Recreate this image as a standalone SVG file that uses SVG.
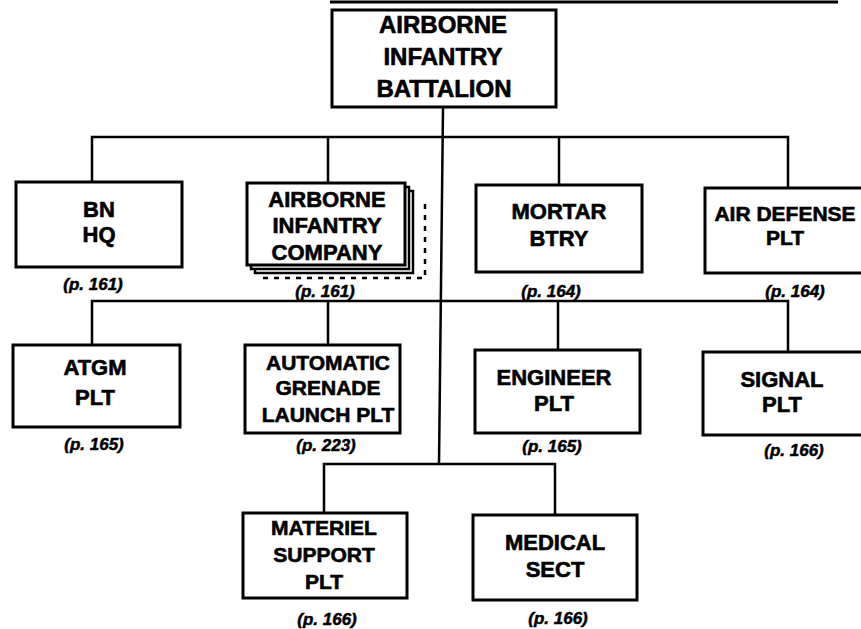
<svg xmlns="http://www.w3.org/2000/svg" width="861" height="629" viewBox="0 0 861 629">
<style>
.box{fill:#fff;stroke:#000;stroke-width:3}
.ln{fill:none;stroke:#000;stroke-width:2.5}
.t{font-family:"Liberation Sans",Arial,sans-serif;font-weight:bold;font-size:22px;text-anchor:middle;fill:#000;stroke:#000;stroke-width:0.6}
.p{font-family:"Liberation Sans",Arial,sans-serif;font-weight:bold;font-style:italic;font-size:17px;text-anchor:middle;fill:#000;stroke:#000;stroke-width:0.5}
</style>
<rect width="861" height="629" fill="#fff"/>
<line x1="330" y1="2" x2="838" y2="2" stroke="#000" stroke-width="3"/>
<g id="connectors" class="ln">
<path d="M443 107 L439 464"/>
<path d="M92 182 V137 H788 V188"/>
<path d="M328 137 V183"/>
<path d="M559 137 V185"/>
<path d="M92 345 V301 H788 V352"/>
<path d="M328 301 V345"/>
<path d="M558 301 V350"/>
<path d="M324 513 V464 H555 V515"/>
</g>
<g id="battalion">
<rect class="box" x="332" y="10" width="224" height="97"/>
<text class="t" style="font-size:24px" x="443" y="33">AIRBORNE</text>
<text class="t" style="font-size:24px" x="443" y="65">INFANTRY</text>
<text class="t" style="font-size:24px" x="444" y="97">BATTALION</text>
</g>
<g id="bnhq">
<rect class="box" x="16" y="182" width="166" height="85"/>
<text class="t" x="99" y="217">BN</text>
<text class="t" x="99" y="242">HQ</text>
<text class="p" x="93" y="290">(p. 161)</text>
</g>
<g id="company">
<path d="M263 278 H425 V198" fill="none" stroke="#000" stroke-width="2.5" stroke-dasharray="5,6"/>
<rect class="box" x="255" y="191" width="158" height="82" style="stroke-width:2.5"/>
<rect class="box" x="251" y="187" width="158" height="82" style="stroke-width:2.5"/>
<rect class="box" x="247" y="183" width="158" height="82"/>
<text class="t" x="327" y="207">AIRBORNE</text>
<text class="t" x="327" y="233">INFANTRY</text>
<text class="t" x="327" y="260">COMPANY</text>
<text class="p" x="325" y="297">(p. 161)</text>
</g>
<g id="mortar">
<rect class="box" x="476" y="185" width="166" height="87"/>
<text class="t" x="559" y="219">MORTAR</text>
<text class="t" x="559" y="246">BTRY</text>
<text class="p" x="551" y="297">(p. 164)</text>
</g>
<g id="airdefense">
<rect class="box" x="705" y="188" width="170" height="85"/>
<text class="t" style="font-size:21px" x="785" y="221">AIR DEFENSE</text>
<text class="t" style="font-size:21px" x="785" y="245">PLT</text>
<text class="p" x="795" y="297">(p. 164)</text>
</g>
<g id="atgm">
<rect class="box" x="13" y="345" width="167" height="82"/>
<text class="t" x="95" y="375">ATGM</text>
<text class="t" x="95" y="405">PLT</text>
<text class="p" x="94" y="450">(p. 165)</text>
</g>
<g id="agl">
<rect class="box" x="245" y="345" width="155" height="88"/>
<text class="t" style="font-size:21px" x="328" y="370">AUTOMATIC</text>
<text class="t" style="font-size:21px" x="328" y="395">GRENADE</text>
<text class="t" style="font-size:21px" x="328" y="422">LAUNCH PLT</text>
<text class="p" x="326" y="451">(p. 223)</text>
</g>
<g id="engineer">
<rect class="box" x="475" y="350" width="165" height="83"/>
<text class="t" x="554" y="385">ENGINEER</text>
<text class="t" x="554" y="411">PLT</text>
<text class="p" x="552" y="452">(p. 165)</text>
</g>
<g id="signal">
<rect class="box" x="703" y="352" width="172" height="83"/>
<text class="t" x="782" y="387">SIGNAL</text>
<text class="t" x="782" y="412">PLT</text>
<text class="p" x="794" y="456">(p. 166)</text>
</g>
<g id="materiel">
<rect class="box" x="243" y="513" width="164" height="85"/>
<text class="t" style="font-size:21px" x="324" y="535">MATERIEL</text>
<text class="t" style="font-size:21px" x="324" y="562">SUPPORT</text>
<text class="t" style="font-size:21px" x="324" y="589">PLT</text>
<text class="p" x="327" y="625">(p. 166)</text>
</g>
<g id="medical">
<rect class="box" x="473" y="515" width="164" height="85"/>
<text class="t" x="555" y="550">MEDICAL</text>
<text class="t" x="555" y="577">SECT</text>
<text class="p" x="558" y="624">(p. 166)</text>
</g>
</svg>
